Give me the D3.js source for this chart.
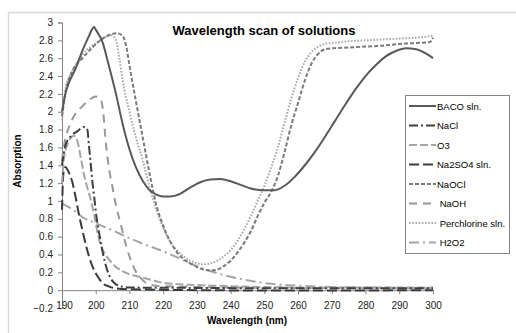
<!DOCTYPE html>
<html><head><meta charset="utf-8">
<script src="https://cdn.jsdelivr.net/npm/d3@7"></script>
<style>
body{margin:0;background:#fff;}
svg{display:block;font-family:"Liberation Sans",Arial,sans-serif;}
text{white-space:pre;}
</style></head>
<body><svg id="c" width="516" height="333"></svg>
<script>
const title = "Wavelength scan of solutions";
const xTitle = "Wavelength (nm)";
const yTitle = "Absorption";
const xTicks = [190,200,210,220,230,240,250,260,270,280,290,300];
const yTicks = [-0.2,0,0.2,0.4,0.6,0.8,1,1.2,1.4,1.6,1.8,2,2.2,2.4,2.6,2.8,3];
const seriesNames = ["BACO sln.","NaCl","O3","Na2SO4 sln.","NaOCl"," NaOH"," Perchlorine sln."," H2O2"];

const baco = [[190,2.0],[191,2.2],[192,2.32],[194,2.48],[196,2.68],[198,2.85],[199,2.93],[199.5,2.95],[200,2.92],[202,2.78],[204,2.5],[206,2.2],[208,1.86],[210,1.58],[212,1.37],[214,1.22],[216,1.12],[218,1.07],[220,1.05],[222,1.05],[225,1.08],[228,1.15],[231,1.21],[234,1.24],[237,1.245],[240,1.22],[243,1.18],[246,1.14],[250,1.12],[253,1.12],[256,1.17],[259,1.27],[262,1.4],[265,1.55],[268,1.72],[271,1.9],[274,2.08],[277,2.25],[280,2.4],[283,2.52],[286,2.62],[289,2.68],[292,2.71],[295,2.7],[298,2.65],[300,2.6]];
const nacl = [[190,1.4],[191,1.62],[192.5,1.72],[194.5,1.78],[196.5,1.83],[197.5,1.8],[198,1.62],[198.5,1.42],[199,1.22],[199.5,1.06],[200.3,0.8],[201.3,0.58],[202.2,0.4],[203.2,0.25],[204.2,0.15],[205.5,0.08],[207.2,0.045],[210,0.03],[230,0.025],[260,0.02],[300,0.02]];
const o3 = [[190,1.2],[190.5,1.45],[191.5,1.62],[192.5,1.7],[193.5,1.73],[194.5,1.68],[195.5,1.5],[196.5,1.3],[197.5,1.15],[198.5,1.02],[199.5,0.85],[200.5,0.65],[201.5,0.5],[202.5,0.42],[204,0.34],[206,0.26],[208,0.21],[210,0.18],[213,0.15],[216,0.12],[219,0.09],[223,0.07],[228,0.06],[235,0.05],[245,0.04],[260,0.03],[280,0.03],[300,0.03]];
const na2so4 = [[190,0.9],[190.4,1.3],[191,1.38],[192,1.32],[193,1.22],[194,1.05],[195,0.85],[196,0.68],[197,0.52],[198,0.38],[199,0.27],[200,0.19],[201,0.13],[202,0.08],[204,0.04],[206,0.02],[210,0.01],[230,0.0],[260,-0.005],[300,0.0]];
const naocl = [[190,1.95],[191.4,2.28],[193,2.45],[196.3,2.61],[199,2.72],[201.3,2.8],[204,2.86],[206.2,2.88],[208,2.85],[209,2.74],[210,2.52],[212,2.1],[214,1.7],[216,1.3],[218,0.95],[220,0.72],[222,0.55],[224,0.43],[226,0.35],[228,0.3],[230,0.26],[232,0.23],[234,0.22],[236,0.23],[238,0.27],[240,0.33],[242,0.42],[244,0.53],[246,0.66],[248,0.83],[250,0.98],[252,1.1],[254,1.28],[256,1.55],[258,1.85],[260,2.1],[262,2.35],[264,2.54],[266,2.65],[268,2.7],[270,2.71],[275,2.72],[280,2.73],[285,2.74],[290,2.76],[295,2.77],[299,2.78],[300,2.83]];
const naoh = [[190,1.45],[191,1.7],[192,1.82],[194,1.98],[196,2.06],[198,2.13],[200,2.17],[201.5,2.14],[202.2,2.0],[203,1.65],[204,1.35],[205,1.15],[206,0.95],[207,0.8],[208,0.65],[209,0.5],[210,0.38],[211,0.28],[212,0.2],[213,0.15],[215,0.08],[218,0.05],[230,0.035],[260,0.025],[300,0.02]];
const perchl = [[190,1.9],[191,2.25],[193,2.45],[195,2.58],[197,2.68],[199,2.74],[201,2.79],[203,2.84],[204.5,2.86],[206,2.8],[207,2.6],[208,2.35],[210,2.0],[212,1.7],[214,1.45],[216,1.15],[218,0.9],[220,0.7],[222,0.55],[224,0.45],[226,0.38],[228,0.33],[230,0.3],[232,0.29],[234,0.3],[236,0.33],[238,0.38],[240,0.45],[242,0.55],[244,0.68],[246,0.83],[248,1.0],[250,1.17],[252,1.37],[254,1.6],[256,1.88],[258,2.15],[260,2.38],[262,2.56],[264,2.67],[266,2.73],[268,2.76],[270,2.77],[275,2.79],[280,2.8],[285,2.81],[290,2.82],[295,2.83],[300,2.85]];
const h2o2 = [[190,0.97],[192,0.93],[194,0.88],[196,0.82],[200,0.75],[205,0.67],[209,0.6],[214,0.52],[219,0.45],[224,0.37],[228,0.3],[232,0.24],[236,0.19],[240,0.15],[245,0.11],[250,0.08],[255,0.06],[260,0.05],[270,0.035],[280,0.03],[300,0.02]];

const seriesData = [baco,nacl,o3,na2so4,naocl,naoh,perchl,h2o2];
const colors = ["#595959","#3f3f3f","#a5a5a5","#3a3a3a","#7a7a7a","#999999","#a8a8a8","#a5a5a5"];
const dashes = ["none","9,3,2,3","8,3","10,4","4,2","8,6","1.6,1.6","10,4,2,4"];

const svg = d3.select("#c");
svg.append("rect").attr("x",8.5).attr("y",12.5).attr("width",520).attr("height",330)
  .attr("fill","#fff").attr("stroke","#d9d9d9").attr("stroke-width",1.5);

const x = d3.scaleLinear().domain([190,300]).range([62,433]);
const y = d3.scaleLinear().domain([-0.2,3]).range([308,22.5]);

svg.append("text").attr("x",264).attr("y",35).attr("text-anchor","middle")
  .attr("font-size",13).attr("font-weight","bold").attr("fill","#000").text(title);

const yAxis = d3.axisLeft(y).tickValues(yTicks).tickSize(4).tickPadding(5)
  .tickFormat(d=>d3.format("")(+d.toFixed(1)));
const gy = svg.append("g").attr("transform","translate(62,0)").call(yAxis);
gy.select(".domain").attr("stroke","#868686");
gy.selectAll(".tick line").attr("stroke","#868686");
gy.selectAll("text").attr("font-size",10).attr("fill","#222").attr("font-family","Liberation Sans, Arial, sans-serif");

const xAxis = d3.axisBottom(x).tickValues(xTicks).tickSize(4).tickPadding(8).tickSizeOuter(0);
const gx = svg.append("g").attr("transform",`translate(0,${y(0)})`).call(xAxis);
gx.select(".domain").attr("stroke","#868686");
gx.selectAll(".tick line").attr("stroke","#868686");
gx.selectAll("text").attr("font-size",10).attr("fill","#222").attr("font-family","Liberation Sans, Arial, sans-serif");
gx.selectAll(".tick").filter(d=>d===190).select("text").attr("dx",2);

svg.append("text").attr("x",247).attr("y",324).attr("text-anchor","middle")
  .attr("font-size",10).attr("font-weight","bold").attr("fill","#000").text(xTitle);
svg.append("text").attr("transform","translate(21,161) rotate(-90)").attr("text-anchor","middle")
  .attr("font-size",10).attr("font-weight","bold").attr("fill","#000").text(yTitle);

const line = d3.line().x(d=>x(d[0])).y(d=>y(d[1])).curve(d3.curveMonotoneX);
const order = [7,6,5,4,3,2,1,0];
order.forEach(i=>{
  svg.append("path").datum(seriesData[i]).attr("d",line).attr("fill","none")
    .attr("stroke",colors[i]).attr("stroke-width",2)
    .attr("stroke-dasharray",dashes[i]==="none"?null:dashes[i]);
});

const lg = svg.append("g");
lg.append("rect").attr("x",405.5).attr("y",95.5).attr("width",104).attr("height",158)
  .attr("fill","#fff").attr("stroke","#868686").attr("stroke-width",1);
seriesNames.forEach((n,i)=>{
  const cy = 106 + i*19.5;
  lg.append("line").attr("x1",409).attr("x2",436).attr("y1",cy).attr("y2",cy)
    .attr("stroke",colors[i]).attr("stroke-width",2)
    .attr("stroke-dasharray",dashes[i]==="none"?null:dashes[i]);
  lg.append("text").attr("x",437).attr("y",cy+3.5).attr("font-size",9.5)
    .attr("fill","#000").text(n);
});
</script></body></html>
